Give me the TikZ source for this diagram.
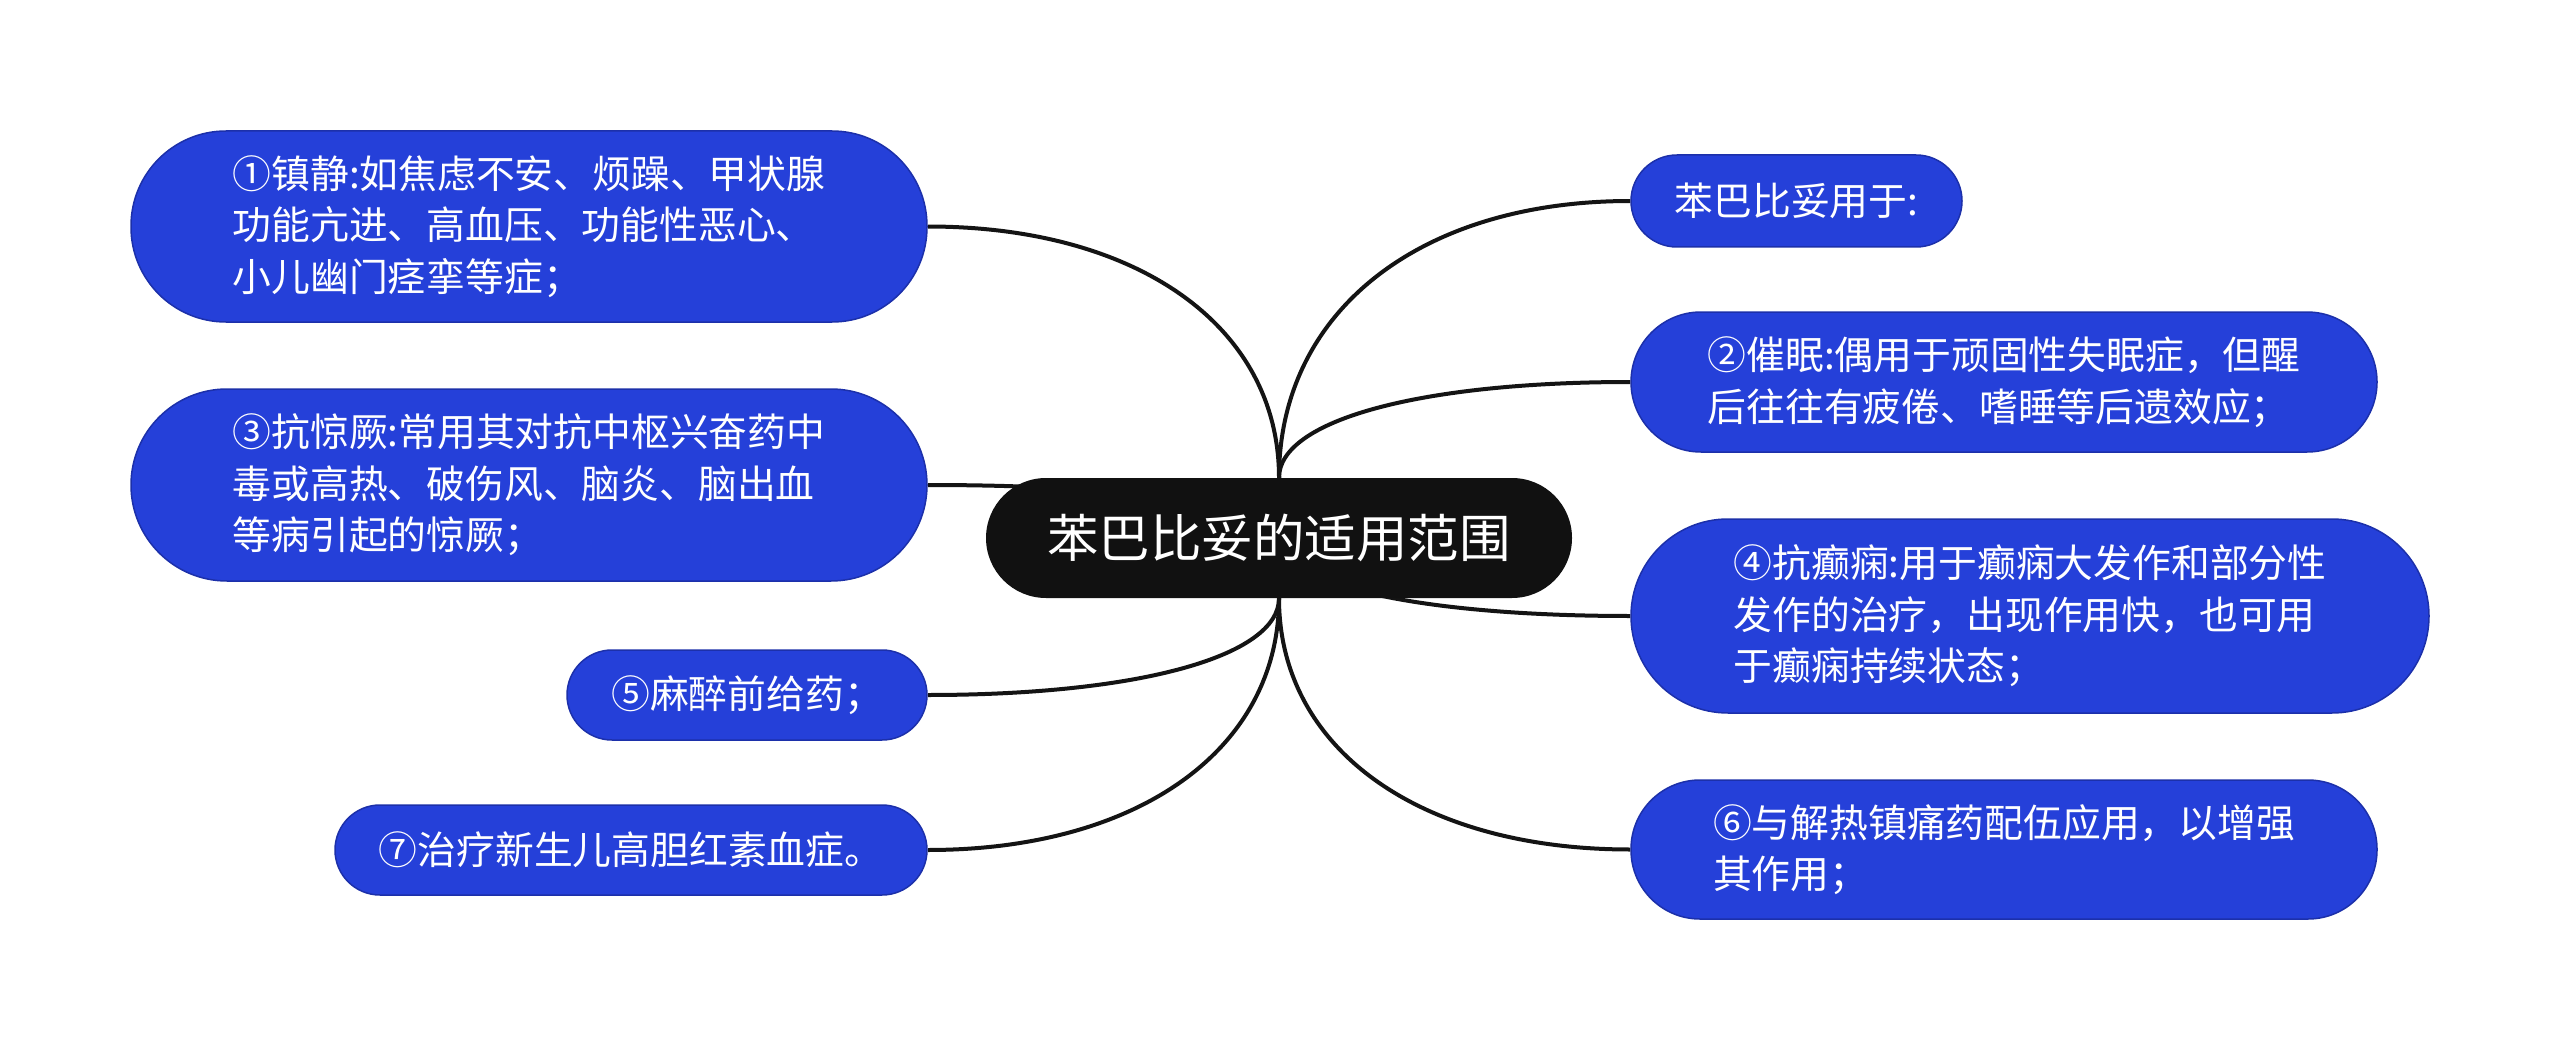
\documentclass[tikz,border=0pt]{standalone}
\usepackage{fontspec}
\setmainfont{Noto Sans CJK SC}
\usetikzlibrary{backgrounds,calc}
\definecolor{nodeblue}{RGB}{37,64,217}
\definecolor{nodeedge}{RGB}{28,48,170}
\definecolor{rootfill}{RGB}{17,17,17}
\definecolor{linkcol}{RGB}{20,20,20}
\newcommand{\branch}[2]{%
  \draw[link] (#1) .. controls ($(#1)!0.6!(#1 |- #2)$) and ($(#2)!0.6!(#1 |- #2)$) .. (#2);}
\begin{document}
\begin{tikzpicture}[x=1pt,y=-1pt,
  leaf/.style={fill=nodeblue, draw=nodeedge, line width=1.5pt, text=white, align=left, inner sep=0pt, font=\fontsize{38.8}{51.5}\selectfont},
  rootnode/.style={fill=rootfill, text=white, inner sep=0pt, font=\fontsize{51.5}{60}\selectfont, minimum width=586pt, minimum height=120pt, rounded corners=60pt},
  link/.style={draw=linkcol, line width=4pt}]
\useasboundingbox (0,0) rectangle (2560,1051);
\node[rootnode] (c) at (1279,538) {苯巴比妥的适用范围};
% left
\node[leaf, minimum width=796pt, minimum height=191pt, rounded corners=95pt] (n1) at (529,226.5) {①镇静:如焦虑不安、烦躁、甲状腺\\功能亢进、高血压、功能性恶心、\\小儿幽门痉挛等症；};
\node[leaf, minimum width=796pt, minimum height=192pt, rounded corners=96pt] (n3) at (529,485) {③抗惊厥:常用其对抗中枢兴奋药中\\毒或高热、破伤风、脑炎、脑出血\\等病引起的惊厥；};
\node[leaf, minimum width=360pt, minimum height=90pt, rounded corners=45pt] (n5) at (747,695) {⑤麻醉前给药；};
\node[leaf, minimum width=592pt, minimum height=90pt, rounded corners=45pt] (n7) at (631,850) {⑦治疗新生儿高胆红素血症。};
% right
\node[leaf, minimum width=331pt, minimum height=92pt, rounded corners=46pt] (r0) at (1796.5,201) {苯巴比妥用于:};
\node[leaf, minimum width=746pt, minimum height=140pt, rounded corners=70pt] (r2) at (2004,382) {②催眠:偶用于顽固性失眠症，但醒\\后往往有疲倦、嗜睡等后遗效应；};
\node[leaf, minimum width=798pt, minimum height=194pt, rounded corners=97pt] (r4) at (2030,616) {④抗癫痫:用于癫痫大发作和部分性\\发作的治疗，出现作用快，也可用\\于癫痫持续状态；};
\node[leaf, minimum width=746pt, minimum height=139pt, rounded corners=69pt] (r6) at (2004,849.5) {⑥与解热镇痛药配伍应用，以增强\\其作用；};
\begin{pgfonlayer}{background}
\fill[white] (0,0) rectangle (2560,1051);
\branch{c.north}{n1.east}
\branch{c.center}{n3.east}
\branch{c.south}{n5.east}
\branch{c.south}{n7.east}
\branch{c.north}{r0.west}
\branch{c.north}{r2.west}
\branch{c.center}{r4.west}
\branch{c.south}{r6.west}
\end{pgfonlayer}
\end{tikzpicture}
\end{document}
